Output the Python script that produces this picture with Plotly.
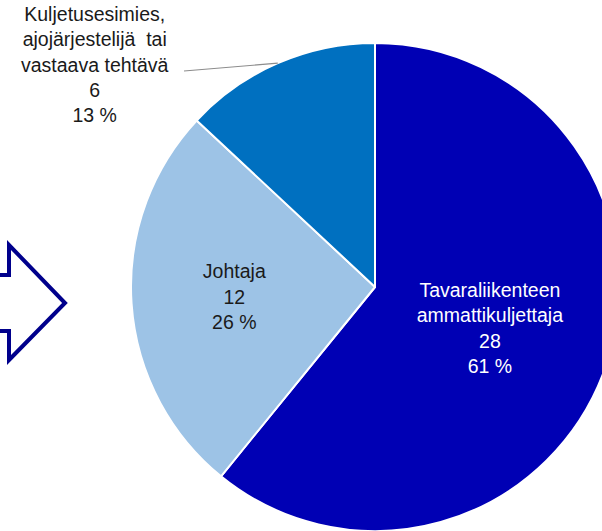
import math
import plotly.graph_objects as go

# slices, clockwise from 12 o'clock
labels = ['Tavaraliikenteen<br>ammattikuljettaja', 'Johtaja',
          'Kuljetusesimies,<br>ajojärjestelijä  tai<br>vastaava tehtävä']
values = [28, 12, 6]
colors = ['#0000B4', '#9DC3E6', '#0070C0']
text_colors = ['white', '#1a1a1a', '#1a1a1a']

W, H = 620, 531
FONT = 'Liberation Sans, Arial, sans-serif'

# pie geometry in pixels (centre and radius)
CX, CY, R = 375, 287, 244

def px(x): return x / W
def py(y): return 1 - y / H

total = sum(values)
pct = [f"{round(v / total * 100)} %" for v in values]
texts = [f"{l}<br>{v}<br>{p}" for l, v, p in zip(labels, values, pct)]

fig = go.Figure()
fig.add_trace(go.Pie(
  labels=labels,
  values=values,
  text=[texts[0], texts[1], ''],
  textinfo='text',
  textposition=['inside', 'inside', 'none'],
  insidetextorientation='horizontal',
  insidetextfont=dict(family=FONT, size=19.5, color=text_colors),
  sort=False,
  direction='clockwise',
  rotation=0,
  marker=dict(colors=colors, line=dict(color='white', width=2)),
  domain=dict(x=[px(CX - R), px(CX + R)], y=[py(CY + R), py(CY - R)]),
  hoverinfo='label+value+percent',
  showlegend=False,
))

# outside label for the small slice, with a leader line to its mid angle
mid = (values[0] + values[1] + values[2] / 2) / total * 2 * math.pi
ex = CX + R * math.sin(mid)
ey = CY - R * math.cos(mid)
fig.add_annotation(
  x=px(95), y=py(64), xref='paper', yref='paper',
  xanchor='center', yanchor='middle',
  text=texts[2], showarrow=False,
  font=dict(family=FONT, size=19.5, color=text_colors[2]),
  align='center',
)
fig.add_shape(type='line', xref='paper', yref='paper',
  x0=px(184), y0=py(71), x1=px(ex), y1=py(ey),
  line=dict(color='#8c8c8c', width=1.2))

# block arrow outline on the left
arrow = [(-10, 275), (9, 275), (9, 245), (65, 303), (9, 360), (9, 331), (-10, 331)]
path = 'M ' + ' L '.join(f"{px(x)},{py(y)}" for x, y in arrow)
fig.add_shape(type='path', xref='paper', yref='paper', path=path,
  line=dict(color='#00008C', width=4), fillcolor='rgba(0,0,0,0)')

fig.update_layout(
  width=W, height=H, autosize=False,
  margin=dict(l=0, r=0, t=0, b=0),
  paper_bgcolor='white', plot_bgcolor='white',
  font=dict(family=FONT),
)

fig.write_html("out.html", config=dict(displayModeBar=False),
  post_script="document.body.style.margin='0';document.body.style.overflow='hidden';document.documentElement.style.overflow='hidden';")
